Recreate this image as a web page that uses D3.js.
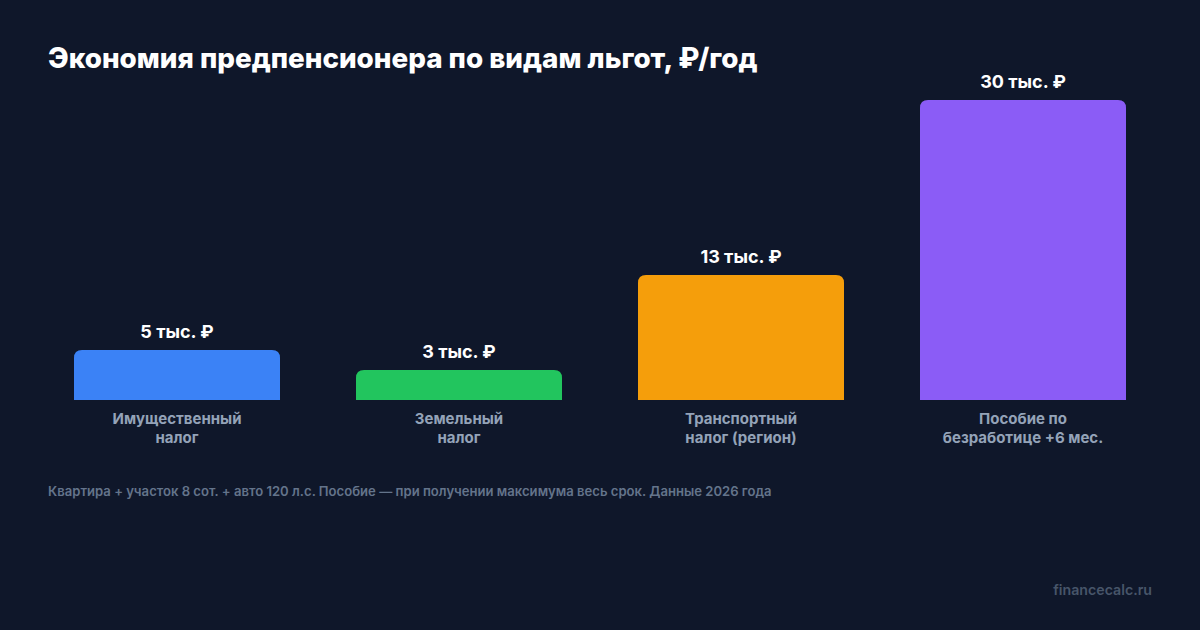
<!DOCTYPE html>
<html><head><meta charset="utf-8">
<script src="https://cdn.jsdelivr.net/npm/d3@7"></script>
<style>html,body{margin:0;padding:0;background:#0f172a;}svg{display:block;font-family:Inter,"Noto Sans",sans-serif;}</style>
</head><body>
<svg id="c" width="1200" height="630"></svg>
<script>
const categories = [["Имущественный","налог"],["Земельный","налог"],["Транспортный","налог (регион)"],["Пособие по","безработице +6 мес."]];
const values = [5, 3, 12.5, 30];
const valueLabels = ["5 тыс. ₽","3 тыс. ₽","13 тыс. ₽","30 тыс. ₽"];
const colors = ["#3b82f6","#22c55e","#f59e0b","#8b5cf6"];
const title = "Экономия предпенсионера по видам льгот, ₽/год";
const note = "Квартира + участок 8 сот. + авто 120 л.с. Пособие — при получении максимума весь срок. Данные 2026 года";
const brand = "financecalc.ru";

const svg = d3.select("#c");
svg.append("rect").attr("width",1200).attr("height",630).attr("fill","#0f172a");
svg.append("text").attr("x",48).attr("y",68).attr("fill","#ffffff").attr("font-size",27.8).attr("font-weight",800).text(title);

const idx = values.map((d,i)=>i);
const p = 76/282;
const x = d3.scaleBand().domain(idx).range([74,1126]).paddingInner(p).paddingOuter(0);
const y = d3.scaleLinear().domain([0,30]).range([400,100]);
const r = 8;
function barPath(x0,w,y0,y1){
  const rr = Math.min(r, (y1-y0), w/2);
  return `M${x0},${y1}V${y0+rr}Q${x0},${y0} ${x0+rr},${y0}H${x0+w-rr}Q${x0+w},${y0} ${x0+w},${y0+rr}V${y1}Z`;
}
const g = svg.append("g");
g.selectAll("path.bar").data(idx).join("path").attr("class","bar")
  .attr("d",i=>barPath(x(i),x.bandwidth(),y(values[i]),y(0)))
  .attr("fill",i=>colors[i]);
g.selectAll("text.val").data(idx).join("text").attr("class","val")
  .attr("x",i=>x(i)+x.bandwidth()/2).attr("y",i=>y(values[i])-12)
  .attr("text-anchor","middle").attr("fill","#ffffff").attr("font-size",18).attr("font-weight",700)
  .text(i=>valueLabels[i]);
const cl = g.selectAll("text.cat").data(idx).join("text").attr("class","cat")
  .attr("text-anchor","middle").attr("fill","#94a3b8").attr("font-size",15).attr("font-weight",700);
cl.each(function(i){
  const t = d3.select(this);
  categories[i].forEach((s,k)=>{
    t.append("tspan").attr("x",x(i)+x.bandwidth()/2).attr("y",y(0)+24+k*19).text(s);
  });
});
svg.append("text").attr("x",48).attr("y",496).attr("fill","#64748b").attr("font-size",13.1).attr("font-weight",600).text(note);
svg.append("text").attr("x",1152).attr("y",595).attr("text-anchor","end").attr("fill","#475569").attr("font-size",14.2).attr("font-weight",600).text(brand);
</script>
</body></html>
